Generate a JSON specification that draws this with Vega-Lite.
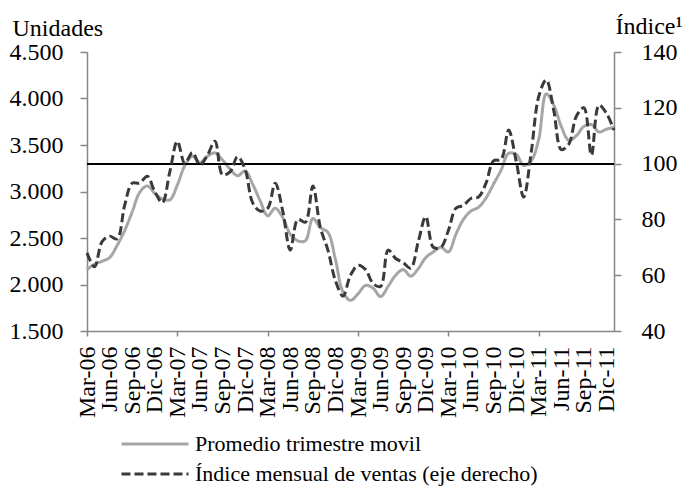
{
  "$schema": "https://vega.github.io/schema/vega-lite/v6.json",
  "width": 527,
  "height": 279,
  "autosize": {"type": "none"},
  "padding": {"left": 87, "top": 52, "right": 70, "bottom": 158},
  "background": "white",
  "config": {
    "view": {"stroke": null},
    "font": "Liberation Serif",
    "axis": {"labelFont": "Liberation Serif", "titleFont": "Liberation Serif", "labelColor": "black", "titleColor": "black", "domainColor": "#868686", "tickColor": "#868686", "domainWidth": 1.5, "tickWidth": 1.5, "grid": false, "titleFontWeight": "normal"},
    "legend": {"labelFont": "Liberation Serif", "labelColor": "black", "padding": 0}
  },
  "data": {"values": [
    {"mes": "Mar-06", "unidades": 2160, "indice": 68},
    {"mes": "Abr-06", "unidades": 2220, "indice": 63},
    {"mes": "May-06", "unidades": 2250, "indice": 72},
    {"mes": "Jun-06", "unidades": 2290, "indice": 74},
    {"mes": "Jul-06", "unidades": 2420, "indice": 73},
    {"mes": "Ago-06", "unidades": 2580, "indice": 85},
    {"mes": "Sep-06", "unidades": 2780, "indice": 93},
    {"mes": "Oct-06", "unidades": 2990, "indice": 93},
    {"mes": "Nov-06", "unidades": 3060, "indice": 95.5},
    {"mes": "Dic-06", "unidades": 2980, "indice": 90},
    {"mes": "Ene-07", "unidades": 2920, "indice": 86},
    {"mes": "Feb-07", "unidades": 2910, "indice": 97},
    {"mes": "Mar-07", "unidades": 3070, "indice": 108},
    {"mes": "Abr-07", "unidades": 3280, "indice": 100},
    {"mes": "May-07", "unidades": 3380, "indice": 104},
    {"mes": "Jun-07", "unidades": 3310, "indice": 99.5},
    {"mes": "Jul-07", "unidades": 3380, "indice": 103},
    {"mes": "Ago-07", "unidades": 3415, "indice": 108},
    {"mes": "Sep-07", "unidades": 3340, "indice": 96},
    {"mes": "Oct-07", "unidades": 3240, "indice": 97},
    {"mes": "Nov-07", "unidades": 3170, "indice": 102.5},
    {"mes": "Dic-07", "unidades": 3220, "indice": 98},
    {"mes": "Ene-08", "unidades": 3080, "indice": 86},
    {"mes": "Feb-08", "unidades": 2900, "indice": 83},
    {"mes": "Mar-08", "unidades": 2740, "indice": 84},
    {"mes": "Abr-08", "unidades": 2820, "indice": 93},
    {"mes": "May-08", "unidades": 2720, "indice": 83},
    {"mes": "Jun-08", "unidades": 2540, "indice": 69},
    {"mes": "Jul-08", "unidades": 2470, "indice": 80},
    {"mes": "Ago-08", "unidades": 2470, "indice": 79},
    {"mes": "Sep-08", "unidades": 2710, "indice": 92},
    {"mes": "Oct-08", "unidades": 2610, "indice": 77},
    {"mes": "Nov-08", "unidades": 2560, "indice": 69},
    {"mes": "Dic-08", "unidades": 2270, "indice": 58},
    {"mes": "Ene-09", "unidades": 1920, "indice": 52.5},
    {"mes": "Feb-09", "unidades": 1830, "indice": 60},
    {"mes": "Mar-09", "unidades": 1900, "indice": 63.5},
    {"mes": "Abr-09", "unidades": 1990, "indice": 62},
    {"mes": "May-09", "unidades": 1960, "indice": 57},
    {"mes": "Jun-09", "unidades": 1870, "indice": 56},
    {"mes": "Jul-09", "unidades": 1980, "indice": 69},
    {"mes": "Ago-09", "unidades": 2100, "indice": 66},
    {"mes": "Sep-09", "unidades": 2160, "indice": 64.5},
    {"mes": "Oct-09", "unidades": 2090, "indice": 62.5},
    {"mes": "Nov-09", "unidades": 2170, "indice": 72},
    {"mes": "Dic-09", "unidades": 2290, "indice": 81},
    {"mes": "Ene-10", "unidades": 2350, "indice": 70},
    {"mes": "Feb-10", "unidades": 2400, "indice": 70},
    {"mes": "Mar-10", "unidades": 2350, "indice": 76},
    {"mes": "Abr-10", "unidades": 2540, "indice": 84},
    {"mes": "May-10", "unidades": 2700, "indice": 85},
    {"mes": "Jun-10", "unidades": 2790, "indice": 87.5},
    {"mes": "Jul-10", "unidades": 2830, "indice": 88},
    {"mes": "Ago-10", "unidades": 2930, "indice": 93},
    {"mes": "Sep-10", "unidades": 3080, "indice": 101},
    {"mes": "Oct-10", "unidades": 3230, "indice": 101.5},
    {"mes": "Nov-10", "unidades": 3410, "indice": 112},
    {"mes": "Dic-10", "unidades": 3400, "indice": 101},
    {"mes": "Ene-11", "unidades": 3280, "indice": 88},
    {"mes": "Feb-11", "unidades": 3330, "indice": 104},
    {"mes": "Mar-11", "unidades": 3560, "indice": 124},
    {"mes": "Abr-11", "unidades": 4050, "indice": 130},
    {"mes": "May-11", "unidades": 3930, "indice": 119},
    {"mes": "Jun-11", "unidades": 3700, "indice": 105},
    {"mes": "Jul-11", "unidades": 3550, "indice": 107},
    {"mes": "Ago-11", "unidades": 3600, "indice": 117},
    {"mes": "Sep-11", "unidades": 3700, "indice": 120},
    {"mes": "Oct-11", "unidades": 3720, "indice": 103},
    {"mes": "Nov-11", "unidades": 3640, "indice": 121},
    {"mes": "Dic-11", "unidades": 3670, "indice": 118},
    {"mes": "Ene-12", "unidades": 3690, "indice": 112}
  ]},
  "layer": [
    {
      "mark": {"type": "line", "interpolate": "catmull-rom", "strokeWidth": 3},
      "encoding": {
        "x": {"field": "mes", "type": "ordinal", "sort": null, "scale": {"type": "point", "padding": 0},
          "axis": {"title": null, "values": ["Mar-06","Jun-06","Sep-06","Dic-06","Mar-07","Jun-07","Sep-07","Dic-07","Mar-08","Jun-08","Sep-08","Dic-08","Mar-09","Jun-09","Sep-09","Dic-09","Mar-10","Jun-10","Sep-10","Dic-10","Mar-11","Jun-11","Sep-11","Dic-11"],
            "labelAngle": -90, "labelAlign": "right", "labelBaseline": "middle", "labelFontSize": 24, "labelPadding": 10, "labelOverlap": false, "tickSize": 5,
            "tickOpacity": {"condition": {"test": "slice(datum.value,0,3)=='Mar'", "value": 1}, "value": 0}}},
        "y": {"field": "unidades", "type": "quantitative", "scale": {"domain": [1500, 4500], "nice": false, "zero": false},
          "axis": {"values": [1500,2000,2500,3000,3500,4000,4500], "labelExpr": "replace(format(datum.value, ','), ',', '.')", "labelFontSize": 24, "labelPadding": 17, "tickSize": 7,
            "title": "Unidades", "titleAngle": 0, "titleFontSize": 24, "titleAlign": "left", "titleBaseline": "alphabetic", "titleX": -75, "titleY": -17}},
        "color": {"datum": "Promedio trimestre movil", "type": "nominal",
          "scale": {"domain": ["Promedio trimestre movil", "Índice mensual de ventas (eje derecho)"], "range": ["#A6A6A6", "#3A3A3A"]},
          "legend": {"title": null, "orient": "none", "legendX": 55, "legendY": 379, "direction": "vertical", "symbolType": "M-3,0H3", "symbolSize": 499, "symbolStrokeWidth": 3, "symbolFillColor": "transparent", "labelFontSize": 22, "labelOffset": 27, "rowPadding": 6, "labelLimit": 0,
            "encode": {"symbols": {"update": {"strokeDash": {"signal": "datum.value === 'Índice mensual de ventas (eje derecho)' ? [9, 4] : [1, 0]"}}}}}},
        "strokeDash": {"datum": "Promedio trimestre movil", "type": "nominal",
          "scale": {"domain": ["Promedio trimestre movil", "Índice mensual de ventas (eje derecho)"], "range": [[1, 0], [9, 4]]},
          "legend": null}
      }
    },
    {
      "layer": [
        {
          "mark": {"type": "rule", "color": "black", "strokeWidth": 1.3},
          "encoding": {"y": {"datum": 100, "type": "quantitative"}}
        },
        {
          "mark": {"type": "line", "interpolate": "catmull-rom", "strokeWidth": 3},
          "encoding": {
            "x": {"field": "mes", "type": "ordinal", "sort": null, "scale": {"type": "point", "padding": 0},
              "axis": {"title": null, "values": ["Mar-06","Jun-06","Sep-06","Dic-06","Mar-07","Jun-07","Sep-07","Dic-07","Mar-08","Jun-08","Sep-08","Dic-08","Mar-09","Jun-09","Sep-09","Dic-09","Mar-10","Jun-10","Sep-10","Dic-10","Mar-11","Jun-11","Sep-11","Dic-11"],
                "labelAngle": -90, "labelAlign": "right", "labelBaseline": "middle", "labelFontSize": 24, "labelPadding": 10, "labelOverlap": false, "tickSize": 5,
                "tickOpacity": {"condition": {"test": "slice(datum.value,0,3)=='Mar'", "value": 1}, "value": 0}}},
            "y": {"field": "indice", "type": "quantitative", "scale": {"domain": [40, 140], "nice": false, "zero": false},
              "axis": {"orient": "right", "values": [40,60,80,100,120,140], "labelFontSize": 24, "labelPadding": 20, "tickSize": 7,
                "title": "Índice¹", "titleAngle": 0, "titleFontSize": 24, "titleAlign": "left", "titleBaseline": "alphabetic", "titleX": 1, "titleY": -19}},
            "color": {"datum": "Índice mensual de ventas (eje derecho)", "type": "nominal"},
            "strokeDash": {"datum": "Índice mensual de ventas (eje derecho)", "type": "nominal"}
          }
        }
      ]
    }
  ],
  "resolve": {"scale": {"y": "independent"}}
}
